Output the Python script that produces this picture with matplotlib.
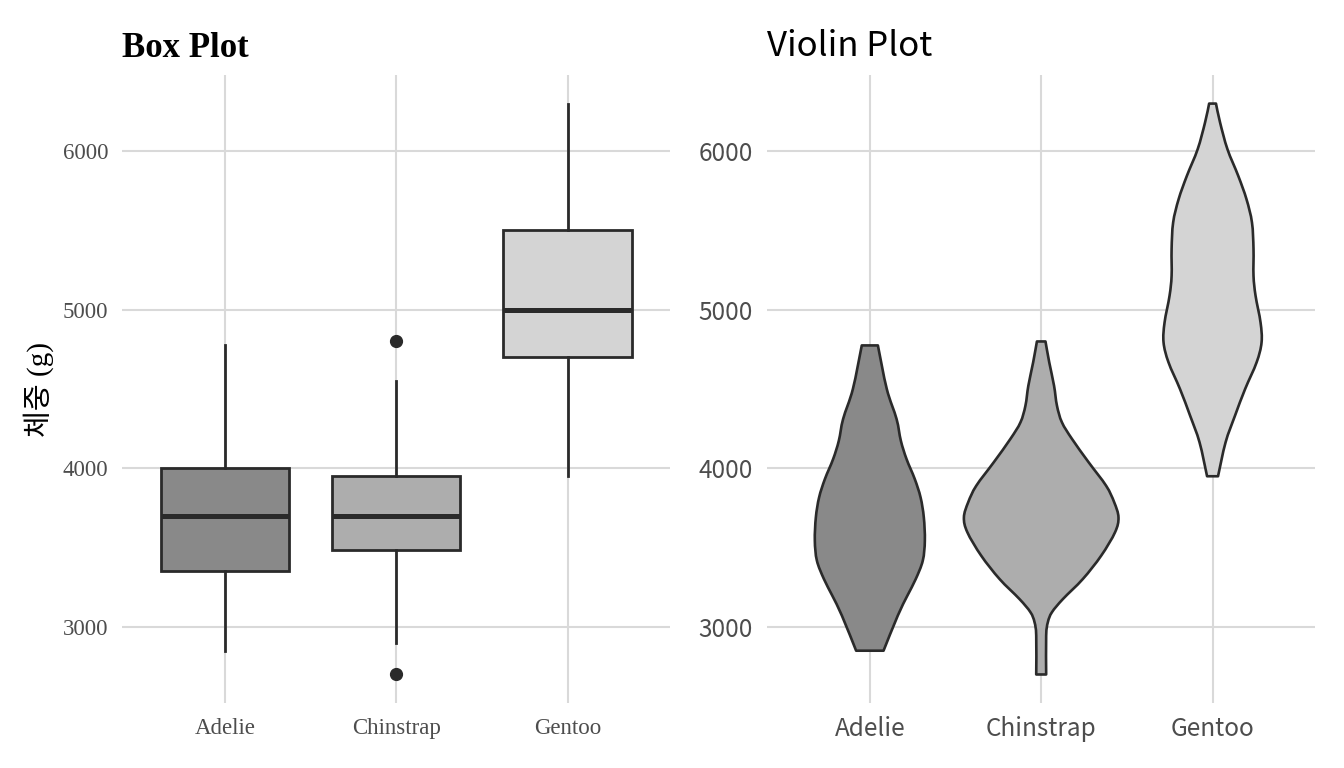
import numpy as np
import matplotlib
matplotlib.use("Agg")
from matplotlib import pyplot as plt
from matplotlib.path import Path
from matplotlib.patches import PathPatch

# penguin body mass summary (g)
species = ["Adelie", "Chinstrap", "Gentoo"]
fills = ["#898989", "#adadad", "#d4d4d4"]

q1 = [3350, 3487.5, 4700]
median = [3700, 3700, 5000]
q3 = [4000, 3950, 5500]
whisker_low = [2850, 2900, 3950]
whisker_high = [4775, 4550, 6300]
outliers = [[], [4800, 2700], []]

# violin outlines: mass (g) and half width (category units)
adelie_mass = [4775, 4500, 4311, 4174, 4059, 3933, 3817, 3691, 3544, 3418, 3302, 3197, 3071, 2850]
adelie_half = [0.047, 0.099, 0.156, 0.181, 0.214, 0.262, 0.296, 0.315, 0.321, 0.309, 0.268, 0.219, 0.163, 0.080]
chin_mass = [4800, 4668, 4521, 4395, 4290, 4185, 4038, 3890, 3786, 3691, 3597, 3449, 3302, 3176, 3093, 3030, 2945, 2700]
chin_half = [0.025, 0.047, 0.075, 0.092, 0.121, 0.180, 0.277, 0.379, 0.426, 0.451, 0.431, 0.350, 0.243, 0.127, 0.063, 0.039, 0.029, 0.029]
gentoo_mass = [6300, 6180, 6012, 5844, 5697, 5550, 5382, 5214, 5088, 4920, 4794, 4668, 4500, 4332, 4164, 3950]
gentoo_half = [0.020, 0.044, 0.087, 0.150, 0.198, 0.230, 0.239, 0.239, 0.251, 0.280, 0.286, 0.257, 0.190, 0.131, 0.076, 0.032]

edge = "#2a2a2a"
grid = "#d9d9d9"
tick_col = "#4d4d4d"
serif = ["Liberation Serif", "Noto Sans CJK KR"]
sans = ["Noto Sans CJK KR", "DejaVu Sans"]

fig = plt.figure(figsize=(13.44, 7.68), dpi=100)
ax1 = fig.add_axes([0.0908, 0.0846, 0.408, 0.8177])
ax2 = fig.add_axes([0.5707, 0.0846, 0.408, 0.8177])

def style(ax, font, size, xpad):
    ax.set_xlim(0.4, 3.6)
    ax.set_ylim(2520, 6480)
    ax.set_xticks([1, 2, 3])
    ax.set_xticklabels(species)
    ax.set_yticks([3000, 4000, 5000, 6000])
    for s in ax.spines.values():
        s.set_visible(False)
    ax.grid(True, color=grid, linewidth=1.5)
    ax.set_axisbelow(True)
    ax.tick_params(length=0, labelcolor=tick_col, labelsize=size)
    ax.tick_params(axis="x", pad=xpad)
    ax.tick_params(axis="y", pad=10)
    for lab in ax.get_xticklabels() + ax.get_yticklabels():
        lab.set_family(font)

def smooth_side(pts):
    # cubic bezier pieces through the outline points (catmull-rom style)
    p = np.vstack([pts[0], pts, pts[-1]])
    verts, codes = [], []
    for k in range(1, len(p) - 2):
        c1 = p[k] + (p[k + 1] - p[k - 1]) / 6
        c2 = p[k + 1] - (p[k + 2] - p[k]) / 6
        verts += [c1, c2, p[k + 1]]
        codes += [Path.CURVE4] * 3
    return verts, codes

# box plot
stats = []
for i in range(3):
    stats.append(dict(med=median[i], q1=q1[i], q3=q3[i],
                      whislo=whisker_low[i], whishi=whisker_high[i],
                      fliers=outliers[i]))
bp = ax1.bxp(stats, positions=[1, 2, 3], widths=0.75, patch_artist=True,
             showcaps=False,
             boxprops=dict(edgecolor=edge, linewidth=2.0),
             whiskerprops=dict(color=edge, linewidth=2.0),
             medianprops=dict(color=edge, linewidth=3.6, solid_capstyle="butt"),
             flierprops=dict(marker="o", markerfacecolor=edge, markeredgecolor=edge,
                             markersize=8.5, linestyle="none"))
for patch, c in zip(bp["boxes"], fills):
    patch.set_facecolor(c)
style(ax1, serif, 16.5, 11)
ax1.set_title("Box Plot", loc="left", fontsize=25, fontweight="bold",
              family=serif, pad=13)
ax1.set_ylabel("체중 (g)", fontsize=21, family=serif, labelpad=6)

# violin plot
violins = [(adelie_mass, adelie_half), (chin_mass, chin_half), (gentoo_mass, gentoo_half)]
for i, (m, h) in enumerate(violins):
    m = np.array(m, dtype=float)
    h = np.array(h)
    left = np.column_stack([i + 1 - h, m])
    right = np.column_stack([i + 1 + h, m])[::-1]
    verts = [left[0]]
    codes = [Path.MOVETO]
    v, c = smooth_side(left)
    verts += v
    codes += c
    verts.append(right[0])
    codes.append(Path.LINETO)
    v, c = smooth_side(right)
    verts += v
    codes += c
    verts.append(left[0])
    codes.append(Path.CLOSEPOLY)
    ax2.add_patch(PathPatch(Path(verts, codes), facecolor=fills[i], edgecolor=edge,
                            linewidth=1.9, joinstyle="round"))
style(ax2, sans, 17.5, 9)
ax2.set_title("Violin Plot", loc="left", fontsize=25, family=sans, pad=14)

fig.savefig("out.png", dpi=100, facecolor="white")
